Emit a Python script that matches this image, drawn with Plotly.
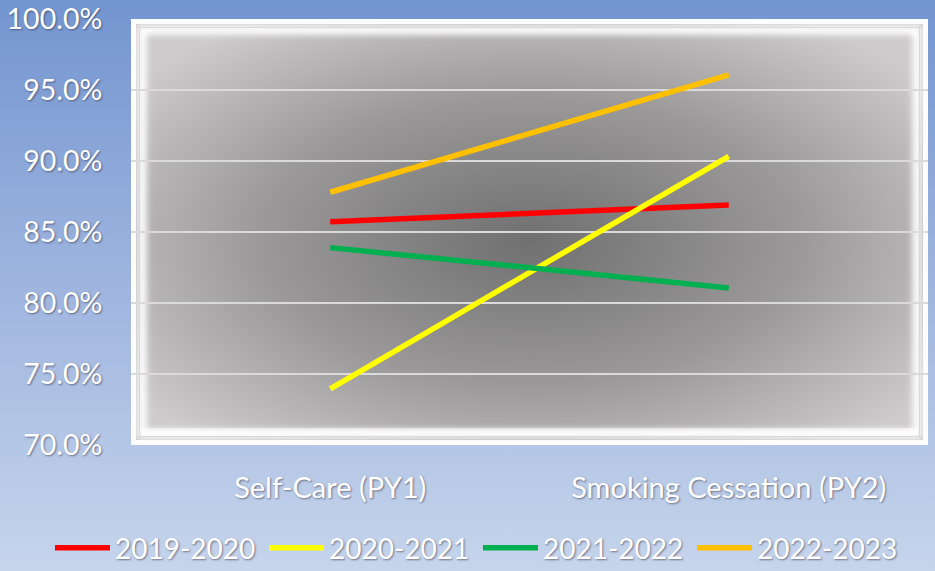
import base64
import plotly.graph_objects as go

# Chart data
categories = ["Self-Care (PY1)", "Smoking Cessation (PY2)"]
series_names = ["2019-2020", "2020-2021", "2021-2022", "2022-2023"]
series_values = [
    [0.8573, 0.8690],
    [0.7396, 0.9033],
    [0.8390, 0.8106],
    [0.8780, 0.9606],
]
series_colors = ["#ff0000", "#ffff00", "#00b050", "#ffc000"]
y_ticks = [0.70, 0.75, 0.80, 0.85, 0.90, 0.95, 1.00]

W, H = 935, 571
M_L, M_R, M_T, M_B = 131, 7, 19, 126
PW, PH = W - M_L - M_R, H - M_T - M_B

FONT = "Lato"
FS = 29
SHADOW = "1px 1px 2px rgba(40,40,60,0.55)"


def svg_uri(svg):
    return "data:image/svg+xml;base64," + base64.b64encode(svg.encode()).decode()


# Page background: vertical blue gradient
page_svg = f"""<svg xmlns='http://www.w3.org/2000/svg' width='{W}' height='{H}' viewBox='0 0 {W} {H}' preserveAspectRatio='none'>
<defs><linearGradient id='p' x1='0' y1='0' x2='0' y2='1'>
<stop offset='0' stop-color='#7395d0'/><stop offset='0.55' stop-color='#a3b8e0'/><stop offset='1' stop-color='#c6d5ec'/>
</linearGradient></defs>
<rect width='{W}' height='{H}' fill='url(#p)'/></svg>"""

# Plot area: radial grey gradient with a white bevelled frame
plot_svg = f"""<svg xmlns='http://www.w3.org/2000/svg' width='{PW}' height='{PH}' viewBox='0 0 {PW} {PH}' preserveAspectRatio='none'>
<defs>
<radialGradient id='g' cx='0.5' cy='0.52' r='0.62'>
<stop offset='0' stop-color='#707070'/><stop offset='0.55' stop-color='#9b9999'/><stop offset='1' stop-color='#cdcbcb'/>
</radialGradient>
<filter id='b' x='-5%' y='-5%' width='110%' height='110%'><feGaussianBlur stdDeviation='3'/></filter>
<clipPath id='c'><rect x='0' y='0' width='{PW}' height='{PH}'/></clipPath>
</defs>
<rect width='{PW}' height='{PH}' fill='url(#g)'/>
<g clip-path='url(#c)'>
<rect x='11' y='11' width='{PW-22}' height='{PH-22}' fill='none' stroke='#ffffff' stroke-width='9' filter='url(#b)'/>
<rect x='11' y='{PH-16}' width='{PW-22}' height='6' fill='#ffffff' filter='url(#b)'/>
</g>
<rect x='1' y='1' width='{PW-2}' height='{PH-2}' fill='none' stroke='#d2d2d2' stroke-width='2'/>
<rect x='2' y='2' width='{PW-4}' height='{PH-4}' fill='none' stroke='#ffffff' stroke-width='6' opacity='0.95'/>
<rect x='8.5' y='8.5' width='{PW-17}' height='{PH-17}' fill='none' stroke='#d8d8d8' stroke-width='1'/>
</svg>"""

fig = go.Figure()
for name, vals, col in zip(series_names, series_values, series_colors):
    fig.add_trace(go.Scatter(
        x=categories, y=vals, name=name, mode="lines",
        line=dict(color=col, width=5.5), hoverinfo="skip",
    ))

fig.update_layout(
    width=W, height=H,
    margin=dict(l=M_L, r=M_R, t=M_T, b=M_B, autoexpand=False),
    paper_bgcolor="#a3b8e0",
    plot_bgcolor="rgba(0,0,0,0)",
    font=dict(family=FONT, color="#ffffff", size=FS),
    images=[
        dict(source=svg_uri(page_svg), xref="paper", yref="paper",
             x=-M_L / PW, y=1 + M_T / PH, sizex=W / PW, sizey=H / PH,
             xanchor="left", yanchor="top", sizing="stretch", layer="below"),
        dict(source=svg_uri(plot_svg), xref="paper", yref="paper",
             x=0, y=1, sizex=1, sizey=1,
             xanchor="left", yanchor="top", sizing="stretch", layer="below"),
    ],
    xaxis=dict(
        range=[-0.5, 1.5], showgrid=False, zeroline=False, showline=False,
        ticks="outside", ticklen=17, tickcolor="rgba(0,0,0,0)",
        tickfont=dict(family=FONT, size=FS, color="#ffffff", shadow=SHADOW),
        fixedrange=True,
    ),
    yaxis=dict(
        range=[0.70, 1.00], tickvals=y_ticks, tickformat=".1%",
        showgrid=True, gridcolor="#dadada", gridwidth=1.5,
        zeroline=False, showline=False,
        ticks="outside", ticklen=22, tickcolor="rgba(0,0,0,0)",
        tickfont=dict(family=FONT, size=28.5, color="#ffffff", shadow=SHADOW),
        fixedrange=True,
    ),
    legend=dict(
        orientation="h", xref="paper", yref="paper",
        x=(50 - M_L) / PW, xanchor="left",
        y=-(548 - M_T - PH) / PH, yanchor="middle",
        bgcolor="rgba(0,0,0,0)", itemwidth=55,
        entrywidth=144, entrywidthmode="pixels",
        font=dict(family=FONT, size=28, color="#ffffff", shadow=SHADOW),
    ),
    showlegend=True,
)

fig.write_html("out.html", config={"displayModeBar": False})
